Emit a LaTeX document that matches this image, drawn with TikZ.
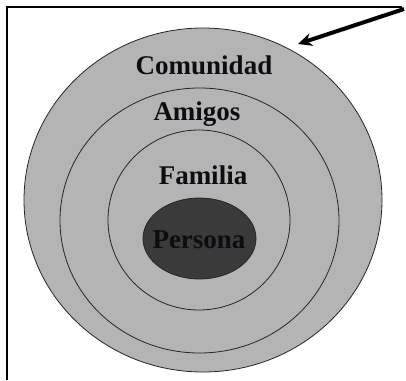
\documentclass[tikz,border=0pt]{standalone}
\usepackage{fontspec}
\setmainfont{Liberation Serif}
\usetikzlibrary{arrows.meta,shapes.geometric}
\definecolor{ringgray}{HTML}{B4B4B4}
\definecolor{coregray}{HTML}{3A3A3A}
\definecolor{txt}{HTML}{0C0C12}
\tikzset{
  ring/.style={draw=black!85, line width=0.8pt, fill=ringgray},
  core/.style={draw=black!85, line width=0.8pt, fill=coregray},
  lbl/.style={font=\fontsize{27}{30}\selectfont\bfseries, text=txt, inner sep=0pt},
}
\begin{document}
\begin{tikzpicture}[x=1pt,y=-1pt]
\useasboundingbox (0,0) rectangle (406,380);
\draw[line width=2pt] (7,380) -- (7,7) -- (402,7);
\draw[ring] (203,200) ellipse [x radius=179, y radius=172];
\draw[ring] (199.5,220.5) ellipse [x radius=139.5, y radius=132.5];
\draw[ring] (199,220) ellipse [x radius=91, y radius=90];
\node[core, ellipse, minimum width=113pt, minimum height=81pt, inner sep=0pt] (persona) at (199.5,238.5) {};
\node[lbl] (comunidad) at (204,65) {Comunidad};
\node[lbl] (amigos) at (197,114) {Amigos};
\node[lbl] (familia) at (203,175) {Familia};
\node[lbl] (personalbl) at (199,240) {Persona};
\coordinate (tail) at (404,9);
\coordinate (tip) at (298,44);
\draw[line width=4pt, -{Stealth[length=14pt,width=13pt]}] (tail) -- (tip);
\end{tikzpicture}
\end{document}
